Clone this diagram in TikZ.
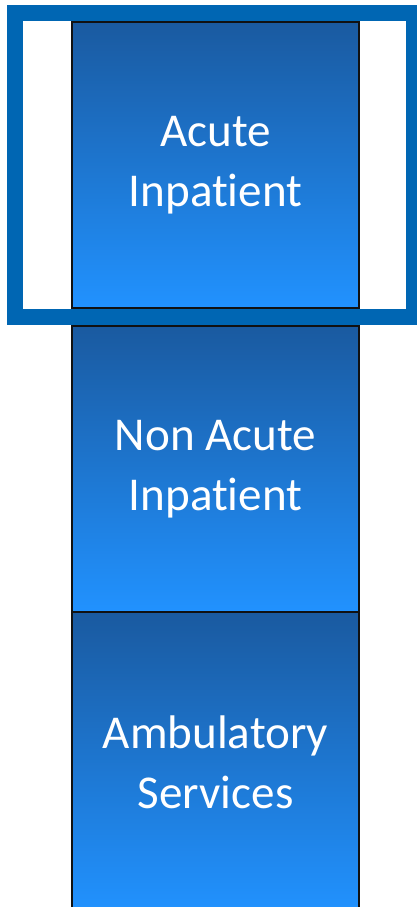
\documentclass[tikz,border=0pt]{standalone}
\usepackage{fontspec}
\setmainfont{Carlito}[Ligatures={NoCommon}]
\usetikzlibrary{positioning, calc}
\definecolor{BoxTop}{HTML}{1A5AA0}
\definecolor{BoxBottom}{HTML}{2192FF}
\definecolor{FrameBlue}{HTML}{0066B3}
\definecolor{EdgeInk}{HTML}{111111}
\begin{document}
\begin{tikzpicture}[
    x=0.025cm,
    y=-0.025cm,
    tierbox/.style={draw=EdgeInk, line width=1.1pt, top color=BoxTop, bottom color=BoxBottom,
        minimum width=7.175cm, minimum height=7.15cm, outer sep=0pt, inner sep=0pt,
        align=center, text=white, font=\fontsize{33.5}{42.5}\selectfont},
    frame/.style={draw=FrameBlue, line width=0.4cm}
]

\useasboundingbox (0,0) rectangle (416,907);

\node[tierbox] (acute) at (215.5,165) {Acute\\Inpatient};

\node[tierbox, below=0.45cm of acute] (nonacute) {Non Acute\\Inpatient};

\node[tierbox, minimum height=7.5cm, below=0cm of nonacute] (ambulatory) {Ambulatory\\Services};

\draw[frame] ($(acute.north west)+(-57,-9)$) rectangle ($(acute.south east)+(55,9)$);

\end{tikzpicture}
\end{document}
